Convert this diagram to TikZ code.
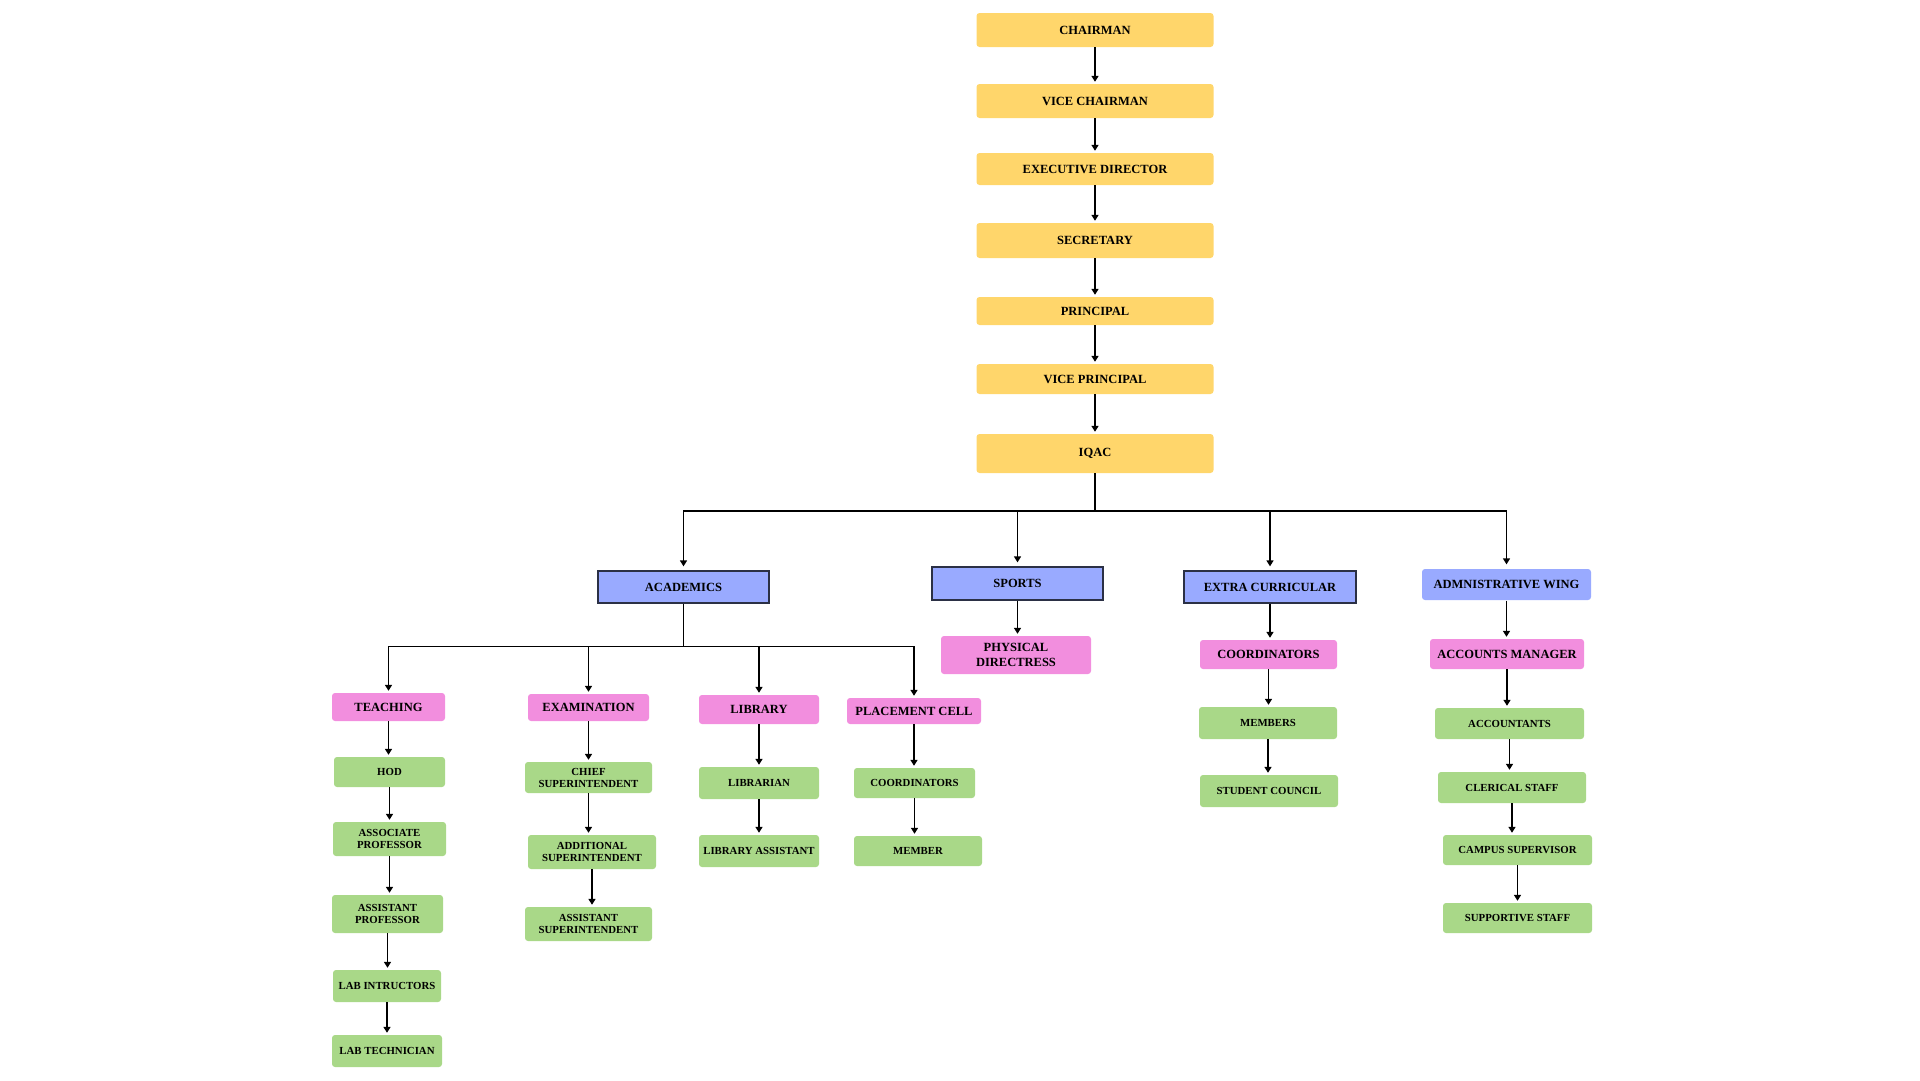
\documentclass[tikz,border=0pt]{standalone}
\usepackage{fontspec}
\setmainfont{Liberation Serif}
\usepackage{tikz}
\usetikzlibrary{arrows.meta,positioning}
\definecolor{chyellow}{HTML}{FFD66B}
\definecolor{chblue}{HTML}{99AAFF}
\definecolor{chpink}{HTML}{F28EDE}
\definecolor{chgreen}{HTML}{A9D888}
\definecolor{dkline}{HTML}{2B3045}

\tikzset{
  box/.style={rectangle, rounded corners=3pt, inner sep=0pt, align=center,
    font=\bfseries\fontsize{12.5}{15}\selectfont},
  head/.style={box, fill=chyellow, minimum width=237pt},
  wing/.style={box, fill=chblue, rounded corners=0pt, draw=dkline, line width=1.3pt},
  unit/.style={box, fill=chpink},
  post/.style={box, fill=chgreen, font=\bfseries\fontsize{10.8}{12}\selectfont},
  link/.style={line width=1.6pt},
  arr/.style={link, -{Triangle[length=6pt,width=7pt]}, shorten >=2pt},
}

\begin{document}
\begin{tikzpicture}[x=1pt, y=1pt]
\useasboundingbox (0,0) rectangle (1920,-1080);

% top of the chart
\node[head, minimum height=34pt] (chairman) at (1095,-30) {CHAIRMAN};
\node[head, minimum height=34pt] (vchairman) at (1095,-101) {VICE CHAIRMAN};
\node[head, minimum height=32pt] (execdir) at (1095,-169) {EXECUTIVE DIRECTOR};
\node[head, minimum height=35pt] (secretary) at (1095,-240.5) {SECRETARY};
\node[head, minimum height=28pt] (principal) at (1095,-311) {PRINCIPAL};
\node[head, minimum height=30pt] (vprincipal) at (1095,-379) {VICE PRINCIPAL};
\node[head, minimum height=39pt] (iqac) at (1095,-453.5) {IQAC};

% wings
\node[wing, minimum width=171pt, minimum height=32pt] (academics) at (683.5,-587) {ACADEMICS};
\node[wing, minimum width=171pt, minimum height=33pt] (sports) at (1017.5,-583.5) {SPORTS};
\node[wing, minimum width=172pt, minimum height=32pt] (extra) at (1270,-587) {EXTRA CURRICULAR};
\node[wing, draw=none, rounded corners=3pt, minimum width=169pt, minimum height=31pt] (admin) at (1506.5,-584.5) {ADMNISTRATIVE WING};

% units
\node[unit, minimum width=113pt, minimum height=28pt] (teaching) at (388.5,-707) {TEACHING};
\node[unit, minimum width=121pt, minimum height=27pt] (exam) at (588.5,-707.5) {EXAMINATION};
\node[unit, minimum width=120pt, minimum height=29pt] (library) at (759,-709.5) {LIBRARY};
\node[unit, minimum width=134pt, minimum height=26pt] (placement) at (914,-711) {PLACEMENT CELL};
\node[unit, minimum width=150pt, minimum height=38pt] (physdir) at (1016,-655) {PHYSICAL\\DIRECTRESS};
\node[unit, minimum width=137pt, minimum height=29pt] (coordx) at (1268.5,-654.5) {COORDINATORS};
\node[unit, minimum width=154pt, minimum height=30pt] (accmgr) at (1507,-654) {ACCOUNTS MANAGER};

% teaching staff
\node[post, minimum width=111pt, minimum height=30pt] (hod) at (389.5,-772) {HOD};
\node[post, minimum width=113pt, minimum height=34pt] (assoc) at (389.5,-839) {ASSOCIATE\\PROFESSOR};
\node[post, minimum width=111pt, minimum height=38pt] (asstprof) at (387.5,-914) {ASSISTANT\\PROFESSOR};
\node[post, minimum width=108pt, minimum height=32pt] (labins) at (387,-986) {LAB INTRUCTORS};
\node[post, minimum width=110pt, minimum height=32pt] (labtech) at (387,-1051) {LAB TECHNICIAN};

% examination
\node[post, minimum width=127pt, minimum height=31pt] (chief) at (588.5,-777.5) {CHIEF\\SUPERINTENDENT};
\node[post, minimum width=128pt, minimum height=34pt] (addl) at (592,-852) {ADDITIONAL\\SUPERINTENDENT};
\node[post, minimum width=127pt, minimum height=34pt] (asstsup) at (588.5,-924) {ASSISTANT\\SUPERINTENDENT};

% library and placement
\node[post, minimum width=120pt, minimum height=32pt] (librarian) at (759,-783) {LIBRARIAN};
\node[post, minimum width=120pt, minimum height=32pt] (libasst) at (759,-851) {LIBRARY ASSISTANT};
\node[post, minimum width=121pt, minimum height=30pt] (coordp) at (914.5,-783) {COORDINATORS};
\node[post, minimum width=128pt, minimum height=30pt] (member) at (918,-851) {MEMBER};

% extra curricular
\node[post, minimum width=138pt, minimum height=32pt] (members) at (1268,-723) {MEMBERS};
\node[post, minimum width=138pt, minimum height=32pt] (stucouncil) at (1269,-791) {STUDENT COUNCIL};

% administration
\node[post, minimum width=149pt, minimum height=31pt] (accountants) at (1509.5,-723.5) {ACCOUNTANTS};
\node[post, minimum width=148pt, minimum height=31pt] (clerical) at (1512,-787.5) {CLERICAL STAFF};
\node[post, minimum width=149pt, minimum height=30pt] (campus) at (1517.5,-850) {CAMPUS SUPERVISOR};
\node[post, minimum width=149pt, minimum height=30pt] (supportive) at (1517.5,-918) {SUPPORTIVE STAFF};

% arrows down the top
\draw[arr] (chairman) -- (vchairman);
\draw[arr] (vchairman) -- (execdir);
\draw[arr] (execdir) -- (secretary);
\draw[arr] (secretary) -- (principal);
\draw[arr] (principal) -- (vprincipal);
\draw[arr] (vprincipal) -- (iqac);

% iqac to the wings
\draw[link] (iqac.south) -- ++(0,-38) coordinate (iqbus);
\draw[arr, shorten >=4pt] (iqbus) -| (academics.north);
\draw[arr, shorten >=4pt] (iqbus) -| (sports.north);
\draw[arr, shorten >=4pt] (iqbus) -| (extra.north);
\draw[arr, shorten >=4pt] (iqbus) -| (admin.north);

% academics to its units
\draw[link] (academics.south) -- ++(0,-43) coordinate (acbus);
\draw[arr] (acbus) -| (teaching.north);
\draw[arr] (acbus) -| (exam.north);
\draw[arr] (acbus) -| (library.north);
\draw[arr] (acbus) -| (placement.north);

\draw[arr] (sports.south) -- (sports.south |- physdir.north);
\draw[arr] (extra.south) -- (extra.south |- coordx.north);
\draw[arr] (admin.south) -- (admin.south |- accmgr.north);

% columns
\draw[arr] (teaching.south) -- (teaching.south |- hod.north);
\draw[arr] (hod.south) -- (hod.south |- assoc.north);
\draw[arr] (assoc.south) -- (assoc.south |- asstprof.north);
\draw[arr] (asstprof.south) -- (asstprof.south |- labins.north);
\draw[arr] (labins.south) -- (labins.south |- labtech.north);

\draw[arr] (exam.south) -- (exam.south |- chief.north);
\draw[arr] (chief.south) -- (chief.south |- addl.north);
\draw[arr] (addl.south) -- (addl.south |- asstsup.north);

\draw[arr] (library.south) -- (library.south |- librarian.north);
\draw[arr] (librarian.south) -- (librarian.south |- libasst.north);

\draw[arr] (placement.south) -- (placement.south |- coordp.north);
\draw[arr] (coordp.south) -- (coordp.south |- member.north);

\draw[arr] (coordx.south) -- (coordx.south |- members.north);
\draw[arr] (members.south) -- (members.south |- stucouncil.north);

\draw[arr] (accmgr.south) -- (accmgr.south |- accountants.north);
\draw[arr] (accountants.south) -- (accountants.south |- clerical.north);
\draw[arr] (clerical.south) -- (clerical.south |- campus.north);
\draw[arr] (campus.south) -- (campus.south |- supportive.north);

\end{tikzpicture}
\end{document}
